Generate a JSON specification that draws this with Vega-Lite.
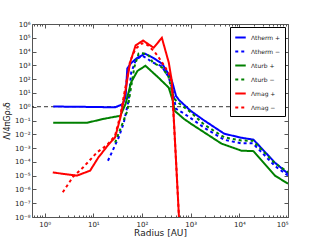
{
  "$schema": "https://vega.github.io/schema/vega-lite/v6.json",
  "width": 256,
  "height": 193,
  "autosize": {"type": "none"},
  "padding": {"left": 32, "top": 24, "right": 32, "bottom": 23},
  "background": "white",
  "config": {
    "view": {"stroke": "#555", "strokeWidth": 1},
    "font": "DejaVu Sans",
    "axis": {"grid": false, "domain": false, "labelFontSize": 7, "labelColor": "#222", "tickColor": "#555", "titleFontWeight": "normal", "titleColor": "#222"}
  },
  "datasets": {
    "curves": [
      {"series": "Λtherm +", "r": 1.5, "v": 1.05},
      {"series": "Λtherm +", "r": 3, "v": 1.0},
      {"series": "Λtherm +", "r": 6, "v": 0.98},
      {"series": "Λtherm +", "r": 12, "v": 0.95},
      {"series": "Λtherm +", "r": 28, "v": 0.9},
      {"series": "Λtherm +", "r": 40, "v": 1.5},
      {"series": "Λtherm +", "r": 46, "v": 5},
      {"series": "Λtherm +", "r": 50, "v": 600},
      {"series": "Λtherm +", "r": 60, "v": 1500},
      {"series": "Λtherm +", "r": 80, "v": 3500},
      {"series": "Λtherm +", "r": 115, "v": 7000},
      {"series": "Λtherm +", "r": 170, "v": 3500},
      {"series": "Λtherm +", "r": 260, "v": 1300},
      {"series": "Λtherm +", "r": 380, "v": 150},
      {"series": "Λtherm +", "r": 420, "v": 60},
      {"series": "Λtherm +", "r": 500, "v": 6},
      {"series": "Λtherm +", "r": 580, "v": 3},
      {"series": "Λtherm +", "r": 1000, "v": 0.5},
      {"series": "Λtherm +", "r": 1900, "v": 0.1},
      {"series": "Λtherm +", "r": 4900, "v": 0.011},
      {"series": "Λtherm +", "r": 11000, "v": 0.0056},
      {"series": "Λtherm +", "r": 19500, "v": 0.0041},
      {"series": "Λtherm +", "r": 54000, "v": 8.7e-5},
      {"series": "Λtherm +", "r": 100000, "v": 1.4e-5},

      {"series": "Λtherm −", "r": 20, "v": 1.2e-4},
      {"series": "Λtherm −", "r": 33, "v": 5.6e-3},
      {"series": "Λtherm −", "r": 42, "v": 0.063},
      {"series": "Λtherm −", "r": 53, "v": 2.7},
      {"series": "Λtherm −", "r": 60, "v": 300},
      {"series": "Λtherm −", "r": 75, "v": 2500},
      {"series": "Λtherm −", "r": 100, "v": 5000},
      {"series": "Λtherm −", "r": 130, "v": 3000},
      {"series": "Λtherm −", "r": 166, "v": 1600},
      {"series": "Λtherm −", "r": 250, "v": 900},
      {"series": "Λtherm −", "r": 350, "v": 150},
      {"series": "Λtherm −", "r": 420, "v": 20},
      {"series": "Λtherm −", "r": 500, "v": 0.7},
      {"series": "Λtherm −", "r": 730, "v": 0.32},
      {"series": "Λtherm −", "r": 1000, "v": 0.15},
      {"series": "Λtherm −", "r": 1900, "v": 0.03},
      {"series": "Λtherm −", "r": 4900, "v": 0.004},
      {"series": "Λtherm −", "r": 11000, "v": 0.0022},
      {"series": "Λtherm −", "r": 19000, "v": 0.0022},
      {"series": "Λtherm −", "r": 54000, "v": 5e-5},
      {"series": "Λtherm −", "r": 100000, "v": 1e-5},

      {"series": "Λturb +", "r": 1.5, "v": 0.07},
      {"series": "Λturb +", "r": 7.4, "v": 0.068},
      {"series": "Λturb +", "r": 16, "v": 0.13},
      {"series": "Λturb +", "r": 36, "v": 0.22},
      {"series": "Λturb +", "r": 46, "v": 1.6},
      {"series": "Λturb +", "r": 60, "v": 60},
      {"series": "Λturb +", "r": 81, "v": 400},
      {"series": "Λturb +", "r": 118, "v": 930},
      {"series": "Λturb +", "r": 220, "v": 125},
      {"series": "Λturb +", "r": 355, "v": 24},
      {"series": "Λturb +", "r": 430, "v": 2.7},
      {"series": "Λturb +", "r": 470, "v": 0.5},
      {"series": "Λturb +", "r": 730, "v": 0.13},
      {"series": "Λturb +", "r": 1000, "v": 0.06},
      {"series": "Λturb +", "r": 4300, "v": 0.0021},
      {"series": "Λturb +", "r": 11000, "v": 6.5e-4},
      {"series": "Λturb +", "r": 19500, "v": 6e-4},
      {"series": "Λturb +", "r": 54000, "v": 1e-5},
      {"series": "Λturb +", "r": 100000, "v": 2.6e-6},

      {"series": "Λturb −", "r": 28, "v": 0.0025},
      {"series": "Λturb −", "r": 33, "v": 0.011},
      {"series": "Λturb −", "r": 42, "v": 0.1},
      {"series": "Λturb −", "r": 50, "v": 0.5},
      {"series": "Λturb −", "r": 58, "v": 14},
      {"series": "Λturb −", "r": 70, "v": 800},
      {"series": "Λturb −", "r": 85, "v": 7000},
      {"series": "Λturb −", "r": 100, "v": 8000},
      {"series": "Λturb −", "r": 140, "v": 5000},
      {"series": "Λturb −", "r": 166, "v": 1600},
      {"series": "Λturb −", "r": 260, "v": 700},
      {"series": "Λturb −", "r": 350, "v": 150},
      {"series": "Λturb −", "r": 410, "v": 14},
      {"series": "Λturb −", "r": 460, "v": 3.8},
      {"series": "Λturb −", "r": 550, "v": 2},
      {"series": "Λturb −", "r": 1000, "v": 0.4},
      {"series": "Λturb −", "r": 1900, "v": 0.05},
      {"series": "Λturb −", "r": 4900, "v": 0.006},
      {"series": "Λturb −", "r": 11000, "v": 0.0035},
      {"series": "Λturb −", "r": 19000, "v": 0.0034},
      {"series": "Λturb −", "r": 54000, "v": 8e-5},
      {"series": "Λturb −", "r": 100000, "v": 1.8e-5},

      {"series": "Λmag +", "r": 1.47, "v": 1.7e-5},
      {"series": "Λmag +", "r": 4.6, "v": 1e-5},
      {"series": "Λmag +", "r": 8.6, "v": 2.3e-5},
      {"series": "Λmag +", "r": 12.6, "v": 2e-4},
      {"series": "Λmag +", "r": 20, "v": 1.6e-3},
      {"series": "Λmag +", "r": 28, "v": 6e-3},
      {"series": "Λmag +", "r": 36, "v": 0.16},
      {"series": "Λmag +", "r": 46, "v": 16},
      {"series": "Λmag +", "r": 57, "v": 1600},
      {"series": "Λmag +", "r": 74, "v": 28000},
      {"series": "Λmag +", "r": 105, "v": 63000},
      {"series": "Λmag +", "r": 174, "v": 19000},
      {"series": "Λmag +", "r": 256, "v": 100000},
      {"series": "Λmag +", "r": 355, "v": 1600},
      {"series": "Λmag +", "r": 410, "v": 76},
      {"series": "Λmag +", "r": 500, "v": 1.3e-4},
      {"series": "Λmag +", "r": 575, "v": 1e-8},
      {"series": "Λmag +", "r": 610, "v": 1e-10},

      {"series": "Λmag −", "r": 2.36, "v": 6.3e-7},
      {"series": "Λmag −", "r": 3.8, "v": 8e-6},
      {"series": "Λmag −", "r": 6.2, "v": 4e-5},
      {"series": "Λmag −", "r": 12, "v": 5e-4},
      {"series": "Λmag −", "r": 19, "v": 1.6e-3},
      {"series": "Λmag −", "r": 28, "v": 8e-3},
      {"series": "Λmag −", "r": 36, "v": 0.25},
      {"series": "Λmag −", "r": 46, "v": 30},
      {"series": "Λmag −", "r": 57, "v": 2000},
      {"series": "Λmag −", "r": 74, "v": 16000},
      {"series": "Λmag −", "r": 100, "v": 40000},
      {"series": "Λmag −", "r": 130, "v": 30000},
      {"series": "Λmag −", "r": 180, "v": 10000},
      {"series": "Λmag −", "r": 250, "v": 2000},
      {"series": "Λmag −", "r": 350, "v": 300},
      {"series": "Λmag −", "r": 410, "v": 50},
      {"series": "Λmag −", "r": 500, "v": 1.3e-4},
      {"series": "Λmag −", "r": 575, "v": 1e-8},
      {"series": "Λmag −", "r": 610, "v": 1e-10}
    ],
    "unity": [
      {"r": 0.5, "v": 1},
      {"r": 100000, "v": 1}
    ]
  },
  "layer": [
    {
      "data": {"name": "unity"},
      "mark": {"type": "line", "color": "black", "strokeWidth": 0.8, "strokeDash": [4, 3], "clip": true},
      "encoding": {
        "x": {"field": "r", "type": "quantitative", "scale": {"type": "log", "domain": [0.55, 100000]},
          "axis": {"orient": "top", "title": null, "labels": false, "values": [0.6,0.7,0.8,0.9,1,2,3,4,5,6,7,8,9,10,20,30,40,50,60,70,80,90,100,200,300,400,500,600,700,800,900,1000,2000,3000,4000,5000,6000,7000,8000,9000,10000,20000,30000,40000,50000,60000,70000,80000,90000,100000],
            "tickSize": {"condition": {"test": "abs(log(datum.value)/LN10 - round(log(datum.value)/LN10)) < 0.01", "value": -4}, "value": -2}}},
        "y": {"field": "v", "type": "quantitative", "scale": {"type": "log", "domain": [1e-8, 1e6]},
          "axis": {"orient": "right", "title": null, "labels": false, "tickSize": -4, "values": [1e-8,1e-7,1e-6,1e-5,1e-4,1e-3,1e-2,1e-1,1,10,100,1000,10000,100000,1000000]}}
      }
    },
    {
      "data": {"name": "curves"},
      "mark": {"type": "line", "strokeWidth": 2, "clip": true},
      "encoding": {
        "x": {"field": "r", "type": "quantitative", "scale": {"type": "log", "domain": [0.55, 100000]},
          "axis": {"orient": "bottom", "title": "Radius [AU]", "titleFontSize": 9, "titlePadding": 1, "labelPadding": 7,
            "values": [0.6,0.7,0.8,0.9,1,2,3,4,5,6,7,8,9,10,20,30,40,50,60,70,80,90,100,200,300,400,500,600,700,800,900,1000,2000,3000,4000,5000,6000,7000,8000,9000,10000,20000,30000,40000,50000,60000,70000,80000,90000,100000],
            "tickSize": {"condition": {"test": "abs(log(datum.value)/LN10 - round(log(datum.value)/LN10)) < 0.01", "value": -4}, "value": -2},
            "labelExpr": "abs(log(datum.value)/LN10 - round(log(datum.value)/LN10)) < 0.01 ? '10' + (datum.value < 0.99 ? '⁻' : '') + substring('⁰¹²³⁴⁵⁶⁷⁸⁹', abs(round(log(datum.value)/LN10)), abs(round(log(datum.value)/LN10)) + 1) : ''"}},
        "y": {"field": "v", "type": "quantitative", "scale": {"type": "log", "domain": [1e-8, 1e6]},
          "axis": {"orient": "left", "title": "Λ/4πGρ₀δ", "titleFontSize": 8, "titlePadding": 3, "labelPadding": 6, "tickSize": -4,
            "values": [1e-8,1e-7,1e-6,1e-5,1e-4,1e-3,1e-2,1e-1,1,10,100,1000,10000,100000,1000000],
            "labelExpr": "'10' + (datum.value < 0.99 ? '⁻' : '') + substring('⁰¹²³⁴⁵⁶⁷⁸⁹', abs(round(log(datum.value)/LN10)), abs(round(log(datum.value)/LN10)) + 1)"}},
        "color": {"field": "series", "type": "nominal",
          "scale": {"domain": ["Λtherm +", "Λtherm −", "Λturb +", "Λturb −", "Λmag +", "Λmag −"],
                    "range": ["#0000ff", "#0000ff", "#008000", "#008000", "#ff0000", "#ff0000"]},
          "legend": {"title": null, "orient": "top-right", "offset": 3, "padding": 4, "strokeColor": "black", "fillColor": "white",
            "symbolType": "stroke", "symbolSize": 110, "symbolStrokeWidth": 2, "labelFontSize": 6, "rowPadding": 3, "labelOffset": 4, "labelColor": "#222"}},
        "strokeDash": {"field": "series", "type": "nominal",
          "scale": {"domain": ["Λtherm +", "Λtherm −", "Λturb +", "Λturb −", "Λmag +", "Λmag −"],
                    "range": [[1, 0], [3, 3], [1, 0], [3, 3], [1, 0], [3, 3]]},
          "legend": {"title": null, "orient": "top-right", "offset": 3, "padding": 4, "strokeColor": "black", "fillColor": "white",
            "symbolType": "stroke", "symbolSize": 110, "symbolStrokeWidth": 2, "labelFontSize": 6, "rowPadding": 3, "labelOffset": 4, "labelColor": "#222"}}
      }
    }
  ],
  "resolve": {"axis": {"x": "independent", "y": "independent"}}
}
